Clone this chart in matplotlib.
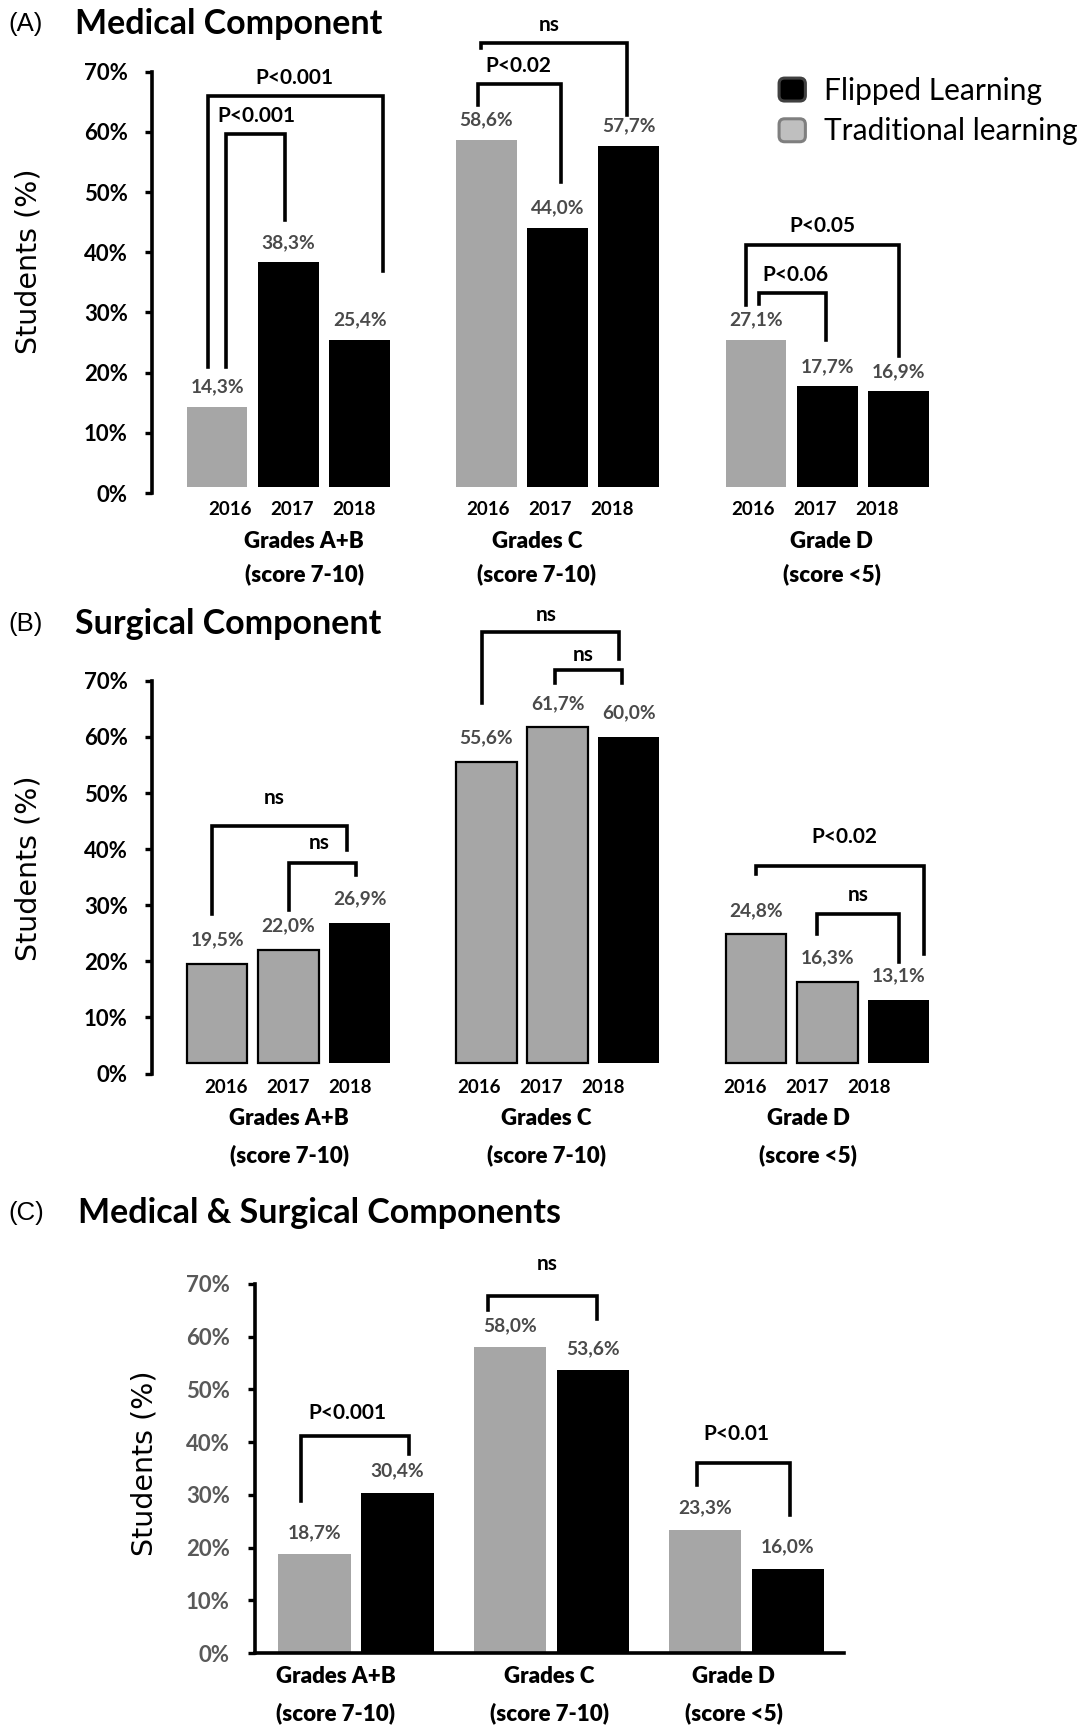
import matplotlib
matplotlib.use("Agg")
import matplotlib.pyplot as plt
from matplotlib.patches import Patch, FancyBboxPatch
from matplotlib.legend_handler import HandlerPatch

plt.rcParams['font.family'] = ['Lato', 'DejaVu Sans']

# ---- data ----
YEARS = ["2016", "2017", "2018"]
CAT_NAMES = ["Grades A+B", "Grades C", "Grade D"]
CAT_SCORES = ["(score 7-10)", "(score 7-10)", "(score <5)"]

# (A) medical component, one row per grade group, years 2016/2017/2018
MED_VALUES = [[14.3, 38.3, 25.4], [58.6, 44.0, 57.7], [27.1, 17.7, 16.9]]
# the 2016 grade D bar is drawn at the height of 25.4 in the original
MED_HEIGHTS = [[14.3, 38.3, 25.4], [58.6, 44.0, 57.7], [25.4, 17.7, 16.9]]
MED_FLIPPED = [[0, 1, 1], [0, 1, 1], [0, 1, 1]]

# (B) surgical component
SUR_VALUES = [[19.5, 22.0, 26.9], [55.6, 61.7, 60.0], [24.8, 16.3, 13.1]]
SUR_FLIPPED = [[0, 0, 1], [0, 0, 1], [0, 0, 1]]

# (C) both components, traditional vs flipped
ALL_VALUES = [[18.7, 30.4], [58.0, 53.6], [23.3, 16.0]]
ALL_FLIPPED = [[0, 1], [0, 1], [0, 1]]

# significance brackets: x1, x2, y, left leg end, right leg end, text, text x, text y
MED_BRACKETS = [
    (-1.125, 1.333, 66.0, 21.0, 36.8, "P<0.001", 0.09, 69.0),
    (-0.883, -0.046, 59.6, 21.0, 45.3, "P<0.001", -0.448, 62.6),
    (2.711, 4.75, 74.7, 73.9, 62.8, "ns", 3.66, 77.7),
    (2.663, 3.822, 68.0, 64.5, 51.6, "P<0.02", 3.232, 71.0),
    (6.433, 8.57, 41.2, 31.3, 22.7, "P<0.05", 7.497, 44.3),
    (6.612, 7.545, 33.3, 31.4, 25.4, "P<0.06", 7.119, 36.2),
]
SUR_BRACKETS = [
    (-1.076, 0.824, 44.2, 28.5, 39.9, "ns", -0.197, 49.1),
    (0.003, 0.955, 37.6, 29.2, 35.4, "ns", 0.438, 41.1),
    (2.72, 4.643, 78.7, 66.1, 73.9, "ns", 3.618, 81.8),
    (3.739, 4.692, 72.0, 69.7, 69.7, "ns", 4.136, 74.6),
    (6.569, 8.924, 37.0, 35.5, 21.3, "P<0.02", 7.812, 42.2),
    (7.424, 8.572, 28.4, 24.9, 19.8, "ns", 8.006, 31.9),
]
ALL_BRACKETS = [
    (-0.666, 0.641, 41.1, 28.9, 37.7, "P<0.001", -0.098, 45.5),
    (1.595, 2.908, 67.8, 65.1, 63.4, "ns", 2.31, 73.7),
    (4.112, 5.233, 36.0, 31.9, 26.2, "P<0.01", 4.581, 41.6),
]

GRAY = '#a6a6a6'
BLACK = '#000000'
LABEL_GRAY = '#4a4a4a'
HEAVY = 'bold'
CAT_WEIGHT = 'heavy'

W, H = 1085, 1729
fig = plt.figure(figsize=(W / 100, H / 100), dpi=100)


def px_axes(left, right, top, bottom):
    return fig.add_axes([left / W, 1 - bottom / H, (right - left) / W, (bottom - top) / H])


def fmt(v):
    return ('%.1f%%' % v).replace('.', ',')


def style_axis(ax, tick_color, pad, bottom_spine=False):
    ax.set_ylim(0, 70)
    ax.set_yticks(range(0, 71, 10))
    ax.set_yticklabels(['%d%%' % t for t in range(0, 71, 10)], fontweight=HEAVY)
    for s in ['top', 'right']:
        ax.spines[s].set_visible(False)
    ax.spines['bottom'].set_visible(bottom_spine)
    for s in ['left', 'bottom']:
        ax.spines[s].set_linewidth(2.6)
    ax.tick_params(axis='y', direction='out', length=5, width=2.4, pad=pad,
                   labelsize=16, labelcolor=tick_color)
    ax.set_xticks([])
    ax.patch.set_alpha(0)


def draw_brackets(ax, brackets, fs=15):
    for x1, x2, y, yb1, yb2, txt, tx, ty in brackets:
        ax.plot([x1, x1, x2, x2], [yb1, y, y, yb2], color='black', lw=2.6,
                solid_joinstyle='miter', clip_on=False)
        ax.text(tx, ty, txt, ha='center', va='center', fontsize=fs, fontweight=HEAVY,
                clip_on=False)


def draw_category(ax, x, y_pair, g):
    ax.text(x, y_pair[0], CAT_NAMES[g], ha='center', va='center',
            fontsize=16, fontweight=CAT_WEIGHT, clip_on=False)
    ax.text(x, y_pair[1], CAT_SCORES[g], ha='center', va='center',
            fontsize=16, fontweight=CAT_WEIGHT, clip_on=False)


def draw_three_year_panel(ax, heights, values, flipped, centers, floor, edge,
                          label_off, year_y, year_shift, cat_shift, cat_y):
    for g, c in enumerate(centers):
        for k in range(3):
            x = c + (k - 1)
            col = BLACK if flipped[g][k] else GRAY
            ec = 'black' if (edge and not flipped[g][k]) else col
            lw = 1.6 if (edge and not flipped[g][k]) else 0
            ax.bar(x, heights[g][k] - floor, bottom=floor, width=0.85, color=col,
                   edgecolor=ec, linewidth=lw)
            ax.annotate(fmt(values[g][k]), (x, heights[g][k]), xytext=(0, label_off),
                        textcoords='offset points', ha='center', va='center',
                        fontsize=13.8, fontweight=HEAVY, color=LABEL_GRAY)
            ax.text(c + (k - 1) * 0.87 + year_shift[g], year_y, YEARS[k], ha='center',
                    va='center', fontsize=13.5, fontweight=HEAVY, clip_on=False)
        draw_category(ax, c + cat_shift[g], cat_y, g)


centers3 = [0, 3.78, 7.57]

# ---------------- (A) ----------------
axA = px_axes(151.5, 964.8, 71.6, 493)
axA.set_xlim(-1.923, 9.5)
style_axis(axA, 'black', 12)
draw_three_year_panel(axA, MED_HEIGHTS, MED_VALUES, MED_FLIPPED, centers3, 1.06, False,
                      14.4, -2.76, [0.05, -0.1, -0.18], [0.22, -0.29, 0.06], (-8.0, -13.5))
draw_brackets(axA, MED_BRACKETS)


class RoundBox(HandlerPatch):
    def create_artists(self, legend, orig_handle, xdescent, ydescent, width, height,
                       fontsize, trans):
        p = FancyBboxPatch((-xdescent + 1.5, -ydescent + 1.5), width - 3, height - 3,
                           boxstyle='round,pad=0,rounding_size=4',
                           facecolor=orig_handle.get_facecolor(),
                           edgecolor=orig_handle.get_edgecolor(),
                           linewidth=2.2, transform=trans)
        return [p]


handles = [Patch(facecolor='black', edgecolor='#404040'),
           Patch(facecolor='#bfbfbf', edgecolor='#7f7f7f')]
fig.legend(handles, ['Flipped Learning', 'Traditional learning'],
           handler_map={Patch: RoundBox()}, loc='upper left',
           bbox_to_anchor=(777 / W, 1 - 76 / H), frameon=False, borderpad=0,
           borderaxespad=0, fontsize=21.5, handlelength=1.02, handleheight=1.02,
           handletextpad=0.55, labelspacing=0.4)

# ---------------- (B) ----------------
axB = px_axes(151.5, 964.8, 680.9, 1073.5)
axB.set_xlim(-1.923, 9.5)
style_axis(axB, 'black', 12)
draw_three_year_panel(axB, SUR_VALUES, SUR_VALUES, SUR_FLIPPED, centers3, 1.96, True,
                      17.3, -2.46, [-0.01, -0.23, -0.29], [0.013, -0.16, -0.27], (-8.1, -14.5))
draw_brackets(axB, SUR_BRACKETS)

# ---------------- (C) ----------------
axC = px_axes(254.8, 843.9, 1284, 1653)
axC.set_xlim(-1.218, 5.88)
style_axis(axC, '#595959', 13, bottom_spine=True)
centers2 = [0, 2.357, 4.705]
cat_shiftC = [-0.243, -0.03, -0.153]
for g, c in enumerate(centers2):
    for k in range(2):
        x = c + (k - 0.5)
        col = BLACK if ALL_FLIPPED[g][k] else GRAY
        axC.bar(x, ALL_VALUES[g][k], width=0.876, color=col, linewidth=0)
        axC.annotate(fmt(ALL_VALUES[g][k]), (x, ALL_VALUES[g][k]), xytext=(0, 15.8),
                     textcoords='offset points', ha='center', va='center',
                     fontsize=13.8, fontweight=HEAVY, color=LABEL_GRAY)
    draw_category(axC, c + cat_shiftC[g], (-4.5, -11.4), g)
draw_brackets(axC, ALL_BRACKETS)

# ---------------- panel titles and axis labels ----------------
for letter, title, y, tx in [("(A)", "Medical Component", 24.1, 75),
                             ("(B)", "Surgical Component", 624.1, 75),
                             ("(C)", "Medical & Surgical Components", 1213, 78.5)]:
    fig.text(8.6 / W, 1 - y / H, letter, family=['Liberation Sans', 'DejaVu Sans'],
             fontsize=18.5, ha='left', va='center')
    fig.text(tx / W, 1 - y / H, title, fontsize=24.5, fontweight='bold',
             ha='left', va='center')

for x, y in [(28.4, 261.4), (28.4, 868), (144.8, 1462.8)]:
    fig.text(x / W, 1 - y / H, "Students (%)", family=['DejaVu Sans'], fontsize=20.5,
             rotation=90, ha='center', va='center')

fig.savefig('out.png', dpi=100)
